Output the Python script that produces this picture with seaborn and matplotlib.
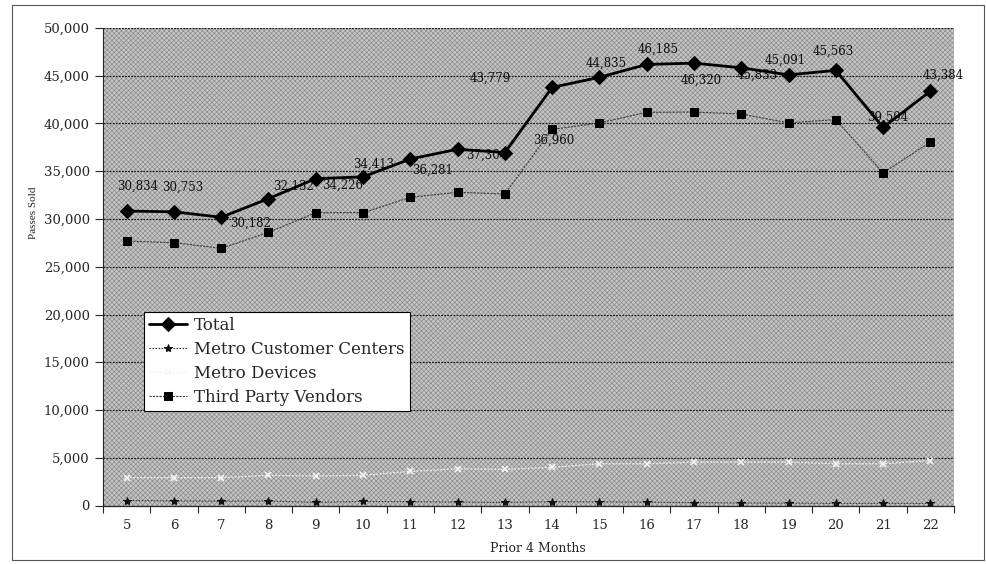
import matplotlib
matplotlib.use("Agg")
import matplotlib.pyplot as plt
from matplotlib.patches import Rectangle
from matplotlib.ticker import FuncFormatter, FixedLocator
import pandas as pd
import seaborn as sns

# ---- data -------------------------------------------------------------
months = list(range(5, 23))
total = [30834, 30753, 30182, 32132, 34226, 34413, 36281, 37304, 36960,
         43779, 44835, 46185, 46320, 45833, 45091, 45563, 39594, 43384]
customer_centers = [520, 480, 450, 470, 330, 420, 400, 360, 320,
                    400, 380, 350, 300, 260, 250, 220, 230, 220]
devices = [2920, 2920, 2920, 3160, 3090, 3160, 3570, 3850, 3780,
           4000, 4370, 4370, 4540, 4540, 4540, 4370, 4370, 4710]
third_party = [27690, 27520, 26930, 28600, 30660, 30660, 32270, 32800, 32620,
               39380, 40060, 41170, 41200, 40990, 40060, 40410, 34830, 38060]
series_names = ["Total", "Metro Customer Centers", "Metro Devices",
                "Third Party Vendors"]
y_ticks = list(range(0, 50001, 5000))

frames = []
for name, vals in zip(series_names, [total, customer_centers, devices, third_party]):
    frames.append(pd.DataFrame({"month": months, "passes": vals, "series": name}))
df = pd.concat(frames, ignore_index=True)

# ---- styling ----------------------------------------------------------
sns.set_style("ticks")
plt.rcParams["font.family"] = ["DejaVu Serif"]
plt.rcParams["hatch.linewidth"] = 0.45

styles = {
    "Total": dict(color="black", lw=2.0, marker="D", markersize=7.5,
                  markerfacecolor="black", markeredgecolor="black", ls="-"),
    "Metro Customer Centers": dict(color="#3c3c3c", lw=0.8, marker="*", markersize=6,
                                   markerfacecolor="#111111", markeredgecolor="#111111",
                                   ls=(0, (1.5, 1.2))),
    "Metro Devices": dict(color="#f2f2f2", lw=0.9, marker="x", markersize=4,
                          markeredgewidth=1.2, markeredgecolor="#f6f6f6",
                          ls=(0, (1.5, 1.2))),
    "Third Party Vendors": dict(color="#3a3a3a", lw=0.8, marker="s", markersize=5.5,
                                markerfacecolor="black", markeredgecolor="black",
                                ls=(0, (2, 1))),
}

W, H = 986, 564
fig = plt.figure(figsize=(W / 100, H / 100), dpi=100)
ax = fig.add_axes([103 / W, 1 - 505.5 / H, (954 - 103) / W, (505.5 - 28) / H])

# stippled plot-area background
ax.set_facecolor("none")
ax.add_patch(Rectangle((0, 0), 1, 1, transform=ax.transAxes, facecolor="#c4c4c4",
                       edgecolor="#8a8a8a", hatch="xxxxxxx", lw=0, zorder=0))

for name in series_names:
    sub = df[df["series"] == name]
    sns.lineplot(data=sub, x="month", y="passes", ax=ax, label=name,
                 zorder=4 if name == "Total" else 3, **styles[name])

# value labels on the Total line
label_offsets = [(11, 25), (9, 25), (29, -6), (25, 12), (27, -7), (11, 13),
                 (22, -11), (29, -6), (49, 12), (-62, 9), (7, 14), (11, 15),
                 (7, -17), (16, -7), (-3, 15), (-3, 19), (5, 10), (13, 16)]
for m, v, (dx, dy) in zip(months, total, label_offsets):
    ax.annotate(f"{v:,}", (m, v), xytext=(dx, dy), textcoords="offset pixels",
                ha="center", va="center", fontsize=8.5, color="#111111",
                family="DejaVu Serif", zorder=2.5)

# axes, ticks, grid
ax.set_xlim(4.5, 22.5)
ax.set_ylim(0, 50000)
ax.set_yticks(y_ticks)
ax.yaxis.set_major_formatter(FuncFormatter(lambda v, p: f"{int(v):,}"))
ax.set_xticks(months)
ax.set_xticklabels([str(m) for m in months])
ax.xaxis.set_minor_locator(FixedLocator([m - 0.5 for m in months] + [months[-1] + 0.5]))
ax.tick_params(axis="x", which="major", length=0, pad=10, labelsize=9.5)
ax.tick_params(axis="x", which="minor", length=5, width=0.8, direction="out")
ax.tick_params(axis="y", length=6, width=0.8, pad=3.6, labelsize=9.5, direction="out")
ax.set_axisbelow(True)
ax.yaxis.grid(True, color="#1e1e1e", ls=(0, (1.6, 1.0)), lw=0.85, zorder=1)
ax.xaxis.grid(False)
for side in ("top", "right"):
    ax.spines[side].set_visible(False)
ax.spines["left"].set_linewidth(0.8)
ax.spines["bottom"].set_linewidth(0.9)
ax.set_xlabel("")
ax.set_ylabel("")

fig.text(538 / W, 1 - 548 / H, "Prior 4 Months", ha="center", va="center",
         fontsize=9, family="DejaVu Serif")
fig.text(33 / W, 1 - 213 / H, "Passes Sold", ha="center", va="center",
         rotation=90, fontsize=8, family="Liberation Serif")

handles, labels = ax.get_legend_handles_labels()
leg = ax.legend(handles, labels, loc="upper left",
                bbox_to_anchor=(144 / W, 1 - 312 / H), bbox_transform=fig.transFigure,
                frameon=True, fancybox=False, framealpha=1, edgecolor="black",
                facecolor="white", prop={"family": "DejaVu Serif", "size": 12},
                handlelength=2.3, handletextpad=0.4, labelspacing=0.42,
                borderpad=0.3, borderaxespad=0)
leg.get_frame().set_linewidth(0.8)
leg.set_zorder(6)

# outer chart border
fig.add_artist(Rectangle((12 / W, 1 - 560 / H), (984 - 12) / W, (560 - 5) / H,
                         transform=fig.transFigure, fill=False, lw=0.8,
                         edgecolor="#555555"))

fig.savefig("out.png", dpi=100)
